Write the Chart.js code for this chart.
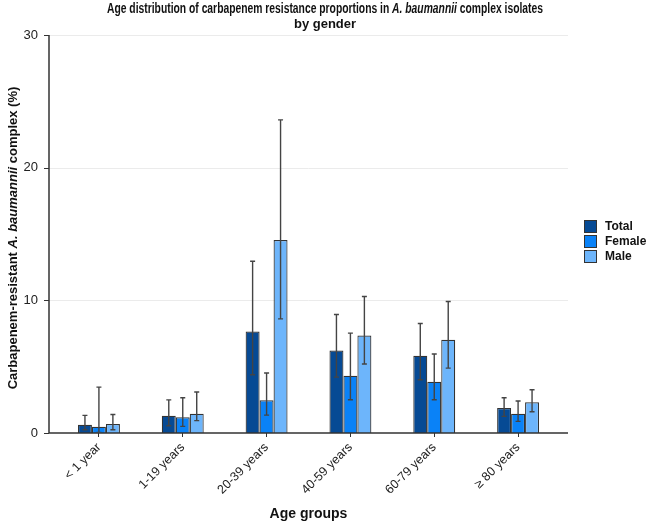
<!DOCTYPE html>
<html>
<head>
<meta charset="utf-8">
<script src="https://cdn.jsdelivr.net/npm/chart.js@4"></script>
<style>
  body { margin: 0; background: #fff; }
  #wrap { width: 647px; height: 527px; }
</style>
</head>
<body>
<div id="wrap"><canvas id="ageChart" width="647" height="527"></canvas></div>
<script>
// 연령대
const ageGroups = ['< 1 year', '1-19 years', '20-39 years', '40-59 years', '60-79 years', '≥ 80 years'];
const seriesNames = ['Total', 'Female', 'Male'];
const seriesColors = ['#064a94', '#0a82f7', '#6db5fb'];

// 비율 (%)
const totalVals = [0.62, 1.30, 7.65, 6.22, 5.82, 1.88];
const femaleVals = [0.47, 1.18, 2.46, 4.31, 3.86, 1.45];
const maleVals = [0.68, 1.45, 14.55, 7.35, 7.03, 2.31];

// 신뢰구간 하한 / 상한
const totalLow = [0.25, 0.55, 4.39, 4.21, 4.01, 1.25];
const totalHigh = [1.33, 2.50, 12.95, 8.93, 8.25, 2.66];
const femaleLow = [0.05, 0.50, 1.35, 2.51, 2.51, 0.88];
const femaleHigh = [3.46, 2.66, 4.52, 7.53, 5.95, 2.41];
const maleLow = [0.25, 0.93, 8.60, 5.20, 4.89, 1.60];
const maleHigh = [1.40, 3.09, 23.60, 10.29, 9.91, 3.26];

const yTicks = [0, 10, 20, 30];

const seriesVals = [totalVals, femaleVals, maleVals];
const seriesLow = [totalLow, femaleLow, maleLow];
const seriesHigh = [totalHigh, femaleHigh, maleHigh];

const FONT = '"Liberation Sans", Arial, sans-serif';
const GAP = 8; // 축과 첫 막대 사이 여백

// 배경 격자선과 축선
const axesPlugin = {
    id: 'axesPlugin',
    beforeDatasetsDraw(chart) {
        const { ctx, chartArea: a, scales: { y } } = chart;
        ctx.save();
        ctx.strokeStyle = '#ebebeb';
        ctx.lineWidth = 1;
        yTicks.forEach(v => {
            if (v === 0) return;
            const py = Math.round(y.getPixelForValue(v)) + 0.5;
            ctx.beginPath();
            ctx.moveTo(a.left - GAP, py);
            ctx.lineTo(a.right + GAP, py);
            ctx.stroke();
        });
        ctx.restore();
    },
    afterDatasetsDraw(chart) {
        const { ctx, chartArea: a, scales: { y } } = chart;
        ctx.save();
        ctx.strokeStyle = '#333';
        ctx.lineWidth = 1.5;
        ctx.beginPath();
        ctx.moveTo(a.left - GAP, y.getPixelForValue(30));
        ctx.lineTo(a.left - GAP, a.bottom);
        ctx.lineTo(a.right + GAP, a.bottom);
        ctx.stroke();
        ctx.lineWidth = 1;
        yTicks.forEach(v => {
            const py = Math.round(y.getPixelForValue(v)) + 0.5;
            ctx.beginPath();
            ctx.moveTo(a.left - GAP - 5, py);
            ctx.lineTo(a.left - GAP, py);
            ctx.stroke();
        });
        ctx.restore();
    }
};

// 오차 막대
const errorBarPlugin = {
    id: 'errorBars',
    afterDatasetsDraw(chart) {
        const { ctx, scales: { y } } = chart;
        ctx.save();
        ctx.strokeStyle = '#444';
        ctx.lineWidth = 1.4;
        chart.data.datasets.forEach((ds, i) => {
            const meta = chart.getDatasetMeta(i);
            meta.data.forEach((bar, j) => {
                const x = bar.x;
                const lo = y.getPixelForValue(seriesLow[i][j]);
                const hi = y.getPixelForValue(seriesHigh[i][j]);
                ctx.beginPath();
                ctx.moveTo(x, lo);
                ctx.lineTo(x, hi);
                ctx.moveTo(x - 2.5, hi);
                ctx.lineTo(x + 2.5, hi);
                ctx.moveTo(x - 2.5, lo);
                ctx.lineTo(x + 2.5, lo);
                ctx.stroke();
            });
        });
        ctx.restore();
    }
};

// 혼합 서체(이탤릭) 텍스트 그리기
function drawRuns(ctx, runs, size, cx, cy, targetWidth) {
    let total = 0;
    runs.forEach(r => {
        ctx.font = (r.italic ? 'italic ' : '') + 'bold ' + size + 'px ' + FONT;
        r.w = ctx.measureText(r.text).width;
        total += r.w;
    });
    const sx = targetWidth ? targetWidth / total : 1;
    ctx.save();
    ctx.translate(cx, cy);
    ctx.scale(sx, 1);
    let x = -total / 2;
    ctx.textAlign = 'left';
    ctx.textBaseline = 'middle';
    ctx.fillStyle = '#111';
    runs.forEach(r => {
        ctx.font = (r.italic ? 'italic ' : '') + 'bold ' + size + 'px ' + FONT;
        ctx.fillText(r.text, x, 0);
        x += r.w;
    });
    ctx.restore();
}

const textPlugin = {
    id: 'texts',
    afterDraw(chart) {
        const { ctx, chartArea: a } = chart;
        // 제목
        drawRuns(ctx, [
            { text: 'Age distribution of carbapenem resistance proportions in ' },
            { text: 'A. baumannii', italic: true },
            { text: ' complex isolates' }
        ], 14, 325, 9, 436);
        drawRuns(ctx, [{ text: 'by gender' }], 13, 325, 24);

        // x축 제목
        drawRuns(ctx, [{ text: 'Age groups' }], 14, (a.left + a.right) / 2, 514);

        // y축 제목
        ctx.save();
        ctx.translate(13, (a.top + a.bottom) / 2 + 4);
        ctx.rotate(-Math.PI / 2);
        drawRuns(ctx, [
            { text: 'Carbapenem-resistant ' },
            { text: 'A. baumannii', italic: true },
            { text: ' complex (%)' }
        ], 13, 0, 0);
        ctx.restore();

        // 범례
        ctx.save();
        seriesNames.forEach((name, i) => {
            const top = 220 + i * 15;
            ctx.fillStyle = seriesColors[i];
            ctx.fillRect(584, top, 13, 13);
            ctx.strokeStyle = '#333';
            ctx.lineWidth = 1;
            ctx.strokeRect(584.5, top + 0.5, 12, 12);
            ctx.fillStyle = '#111';
            ctx.font = 'bold 12px ' + FONT;
            ctx.textAlign = 'left';
            ctx.textBaseline = 'middle';
            ctx.fillText(name, 605, top + 7);
        });
        ctx.restore();
    }
};

const ctx = document.getElementById('ageChart').getContext('2d');
const ageChart = new Chart(ctx, {
    type: 'bar',
    data: {
        labels: ageGroups,
        datasets: seriesNames.map((name, i) => ({
            label: name,
            data: seriesVals[i],
            backgroundColor: seriesColors[i],
            borderColor: '#333',
            borderWidth: 1.2,
            barPercentage: 1,
            categoryPercentage: 0.5
        }))
    },
    options: {
        responsive: false,
        animation: false,
        layout: {
            padding: { left: 0, right: 87, top: 35, bottom: 0 }
        },
        plugins: {
            legend: { display: false },
            title: { display: false },
            tooltip: { enabled: false }
        },
        scales: {
            x: {
                offset: true,
                grid: {
                    offset: false,
                    drawOnChartArea: false,
                    drawTicks: true,
                    tickLength: 4,
                    color: '#333'
                },
                border: { display: false },
                ticks: {
                    maxRotation: 45,
                    minRotation: 45,
                    padding: 3,
                    color: '#222',
                    font: { family: FONT, size: 12.5 }
                },
                afterFit(scale) { scale.height = 94; }
            },
            y: {
                min: 0,
                max: 30,
                grid: { display: false },
                border: { display: false },
                ticks: {
                    stepSize: 10,
                    padding: 11,
                    color: '#222',
                    font: { family: FONT, size: 13 }
                },
                afterFit(scale) { scale.width = 57; }
            }
        }
    },
    plugins: [axesPlugin, errorBarPlugin, textPlugin]
});
</script>
</body>
</html>
